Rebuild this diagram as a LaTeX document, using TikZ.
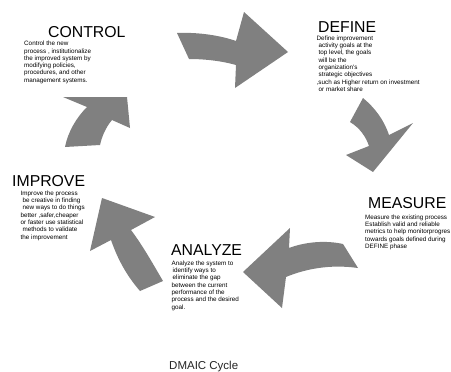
\documentclass[tikz,border=0pt]{standalone}
\usepackage{fontspec}
\setmainfont{Liberation Sans}
\begin{document}
\begin{tikzpicture}[x=1pt,y=-1pt,
  arrowfill/.style={fill=gray!100!black},
  title/.style={anchor=base west,inner sep=0pt,font=\fontsize{15.8}{18}\selectfont},
  body/.style={anchor=north west,inner sep=0pt,align=left,font=\fontsize{6.3}{7.3}\selectfont},
  captext/.style={anchor=base west,inner sep=0pt,font=\fontsize{11.5}{14}\selectfont,text=black!85}]
\useasboundingbox (0,0) rectangle (451,372);
\fill[white] (0,0) rectangle (451,372);
% arrows
\fill[arrowfill] (177,33) .. controls (200,32) and (222,36) .. (236,41) -- (244,12) -- (288,52) -- (235,88) -- (236,65) .. controls (222,61) and (205,59) .. (189,59) -- cycle;
\fill[arrowfill] (363,98) .. controls (375,108) and (384,120) .. (389,135) -- (413,123) -- (373,172) -- (346,155) -- (369,146) .. controls (366,137) and (360,128) .. (350,122) -- cycle;
\fill[arrowfill] (343,244) .. controls (325,240) and (305,242) .. (289,248) -- (290,228) -- (243,272) -- (282,308) -- (286,277) .. controls (305,269) and (330,264) .. (358,268) -- cycle;
\fill[arrowfill] (131,230) -- (155,217) -- (102,198) -- (90,251) -- (111,240) .. controls (118,260) and (127,276) .. (140,291) -- (163,281) .. controls (153,264) and (143,246) .. (131,230) -- cycle;
\fill[arrowfill] (112,120) -- (130,128) -- (127,97) -- (63,97) -- (87,107) .. controls (76,118) and (68,132) .. (65,147) -- (100,145) .. controls (102,136) and (106,127) .. (112,120) -- cycle;
% titles
\node[title] (tcontrol) at (48,37.5) {CONTROL};
\node[title] (tdefine) at (318,32.5) {DEFINE};
\node[title] (tmeasure) at (368,208.5) {MEASURE};
\node[title] (timprove) at (12,186.5) {IMPROVE};
\node[title] (tanalyze) at (171,255.5) {ANALYZE};
% bodies
\node[body] (bcontrol) at (24,41) {Control the new\\process , institutionalize\\the improved system by\\modifying policies,\\procedures, and other\\management systems.};
\node[body] (bdefine) at (316.5,35.5) {Define improvement\\\hspace{2pt}activity goals at the\\\hspace{2pt}top level, the goals\\\hspace{2pt}will be the\\\hspace{2pt}organization's\\\hspace{2pt}strategic objectives\\,such as Higher return on investment\\\hspace{2pt}or market share};
\node[body] (bmeasure) at (365,214.5) {Measure the existing process\\Establish valid and reliable\\metrics to help monitorprogres\\towards goals defined during\\DEFINE phase};
\node[body] (bimprove) at (20.5,190.5) {Improve the process\\\hspace{2pt}be creative in finding\\\hspace{2pt}new ways to do things\\better ,safer,cheaper\\or faster use statistical\\\hspace{2pt}methods to validate\\the improvement};
\node[body] (banalyze) at (171.5,260.5) {Analyze the system to\\\hspace{1pt}identify ways to\\\hspace{1pt}eliminate the gap\\between the current\\performance of the\\process and the desired\\goal.};
\node[captext] (caption) at (169,369) {DMAIC Cycle};
\end{tikzpicture}
\end{document}
